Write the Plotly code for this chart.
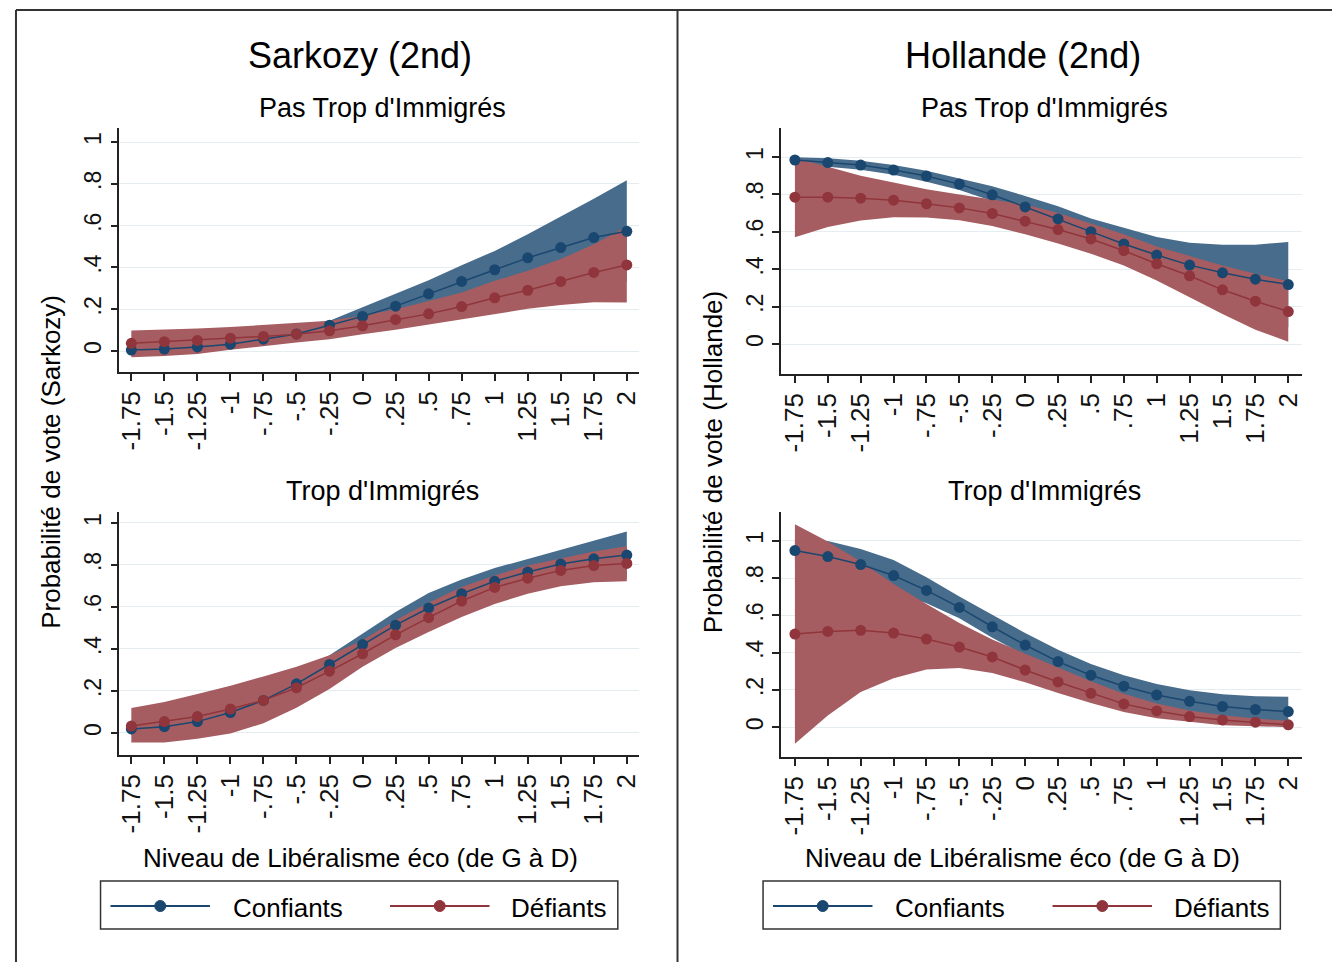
import plotly.graph_objects as go

# Niveau de libéralisme économique (axe x)
NIVEAU = [-1.75, -1.5, -1.25, -1, -0.75, -0.5, -0.25, 0, 0.25, 0.5, 0.75, 1, 1.25, 1.5, 1.75, 2]
NIVEAU_LABELS = ["-1.75", "-1.5", "-1.25", "-1", "-.75", "-.5", "-.25", "0",
                 ".25", ".5", ".75", "1", "1.25", "1.5", "1.75", "2"]
PROBA_TICKS = [0, 0.2, 0.4, 0.6, 0.8, 1]
PROBA_LABELS = ["0", ".2", ".4", ".6", ".8", "1"]

# Sarkozy (2nd) - Pas Trop d'Immigrés
sarko_pas_conf = [0.005, 0.01, 0.02, 0.033, 0.057, 0.082, 0.124, 0.166, 0.215, 0.274, 0.333, 0.389, 0.446, 0.495, 0.543, 0.573]
sarko_pas_conf_lo = [-0.012, -0.01, 0.0, 0.013, 0.034, 0.055, 0.09, 0.125, 0.16, 0.21, 0.255, 0.30, 0.335, 0.36, 0.37, 0.33]
sarko_pas_conf_hi = [0.022, 0.03, 0.042, 0.055, 0.08, 0.108, 0.145, 0.209, 0.275, 0.339, 0.411, 0.479, 0.559, 0.642, 0.729, 0.817]
sarko_pas_def = [0.037, 0.045, 0.051, 0.062, 0.07, 0.081, 0.097, 0.121, 0.151, 0.178, 0.213, 0.255, 0.291, 0.333, 0.376, 0.412]
sarko_pas_def_lo = [-0.029, -0.024, -0.014, 0.006, 0.025, 0.041, 0.057, 0.081, 0.102, 0.126, 0.153, 0.177, 0.202, 0.221, 0.234, 0.232]
sarko_pas_def_hi = [0.099, 0.102, 0.108, 0.115, 0.124, 0.134, 0.145, 0.169, 0.2, 0.24, 0.28, 0.336, 0.384, 0.44, 0.511, 0.596]

# Sarkozy (2nd) - Trop d'Immigrés
sarko_trop_conf = [0.019, 0.03, 0.054, 0.097, 0.155, 0.234, 0.326, 0.421, 0.513, 0.595, 0.663, 0.722, 0.766, 0.804, 0.829, 0.847]
sarko_trop_conf_lo = [-0.01, 0.0, 0.025, 0.06, 0.115, 0.19, 0.285, 0.37, 0.45, 0.525, 0.595, 0.66, 0.705, 0.735, 0.745, 0.735]
sarko_trop_conf_hi = [0.05, 0.065, 0.09, 0.135, 0.195, 0.28, 0.37, 0.473, 0.576, 0.666, 0.731, 0.785, 0.829, 0.873, 0.916, 0.959]
sarko_trop_def = [0.033, 0.054, 0.078, 0.114, 0.155, 0.215, 0.294, 0.377, 0.467, 0.549, 0.628, 0.693, 0.737, 0.774, 0.797, 0.807]
sarko_trop_def_lo = [-0.046, -0.046, -0.028, -0.003, 0.046, 0.12, 0.209, 0.315, 0.405, 0.481, 0.552, 0.614, 0.663, 0.698, 0.718, 0.722]
sarko_trop_def_hi = [0.119, 0.147, 0.185, 0.225, 0.269, 0.315, 0.37, 0.441, 0.536, 0.62, 0.695, 0.75, 0.797, 0.832, 0.864, 0.889]

# Hollande (2nd) - Pas Trop d'Immigrés
hol_pas_conf = [0.984, 0.97, 0.957, 0.93, 0.898, 0.855, 0.798, 0.733, 0.669, 0.601, 0.535, 0.476, 0.422, 0.381, 0.347, 0.318]
hol_pas_conf_lo = [0.97, 0.948, 0.932, 0.905, 0.868, 0.823, 0.765, 0.70, 0.62, 0.545, 0.46, 0.38, 0.30, 0.23, 0.16, 0.09]
hol_pas_conf_hi = [0.998, 0.993, 0.98, 0.957, 0.927, 0.886, 0.844, 0.792, 0.737, 0.671, 0.621, 0.572, 0.542, 0.531, 0.531, 0.546]
hol_pas_def = [0.785, 0.785, 0.78, 0.769, 0.75, 0.728, 0.698, 0.657, 0.612, 0.562, 0.499, 0.429, 0.365, 0.29, 0.229, 0.174]
hol_pas_def_lo = [0.571, 0.626, 0.66, 0.678, 0.676, 0.662, 0.631, 0.587, 0.537, 0.483, 0.42, 0.34, 0.25, 0.161, 0.077, 0.013]
hol_pas_def_hi = [0.996, 0.948, 0.9, 0.864, 0.828, 0.8, 0.773, 0.746, 0.701, 0.644, 0.587, 0.522, 0.47, 0.42, 0.376, 0.336]

# Hollande (2nd) - Trop d'Immigrés
hol_trop_conf = [0.948, 0.916, 0.873, 0.814, 0.734, 0.643, 0.539, 0.441, 0.352, 0.279, 0.22, 0.173, 0.139, 0.111, 0.095, 0.084]
hol_trop_conf_lo = [0.89, 0.85, 0.79, 0.73, 0.665, 0.585, 0.48, 0.385, 0.29, 0.22, 0.16, 0.115, 0.085, 0.06, 0.04, 0.03]
hol_trop_conf_hi = [1.0, 1.0, 0.957, 0.898, 0.805, 0.702, 0.604, 0.505, 0.416, 0.339, 0.279, 0.232, 0.198, 0.177, 0.166, 0.164]
hol_trop_def = [0.5, 0.514, 0.52, 0.505, 0.473, 0.43, 0.377, 0.307, 0.243, 0.182, 0.125, 0.0875, 0.057, 0.039, 0.027, 0.0125]
hol_trop_def_lo = [-0.089, 0.0625, 0.189, 0.2625, 0.309, 0.318, 0.291, 0.241, 0.184, 0.13, 0.082, 0.048, 0.029, 0.011, 0.005, 0.0]
hol_trop_def_hi = [1.089, 0.996, 0.889, 0.768, 0.661, 0.559, 0.47, 0.395, 0.318, 0.246, 0.179, 0.127, 0.089, 0.064, 0.046, 0.034]

NAVY = "#1a476f"
MAROON = "#90353b"
NAVY_FILL = "#486c8c"
MAROON_FILL = "#a65d62"
FONT = "Liberation Sans, Arial, sans-serif"
W, H = 1340, 962
OFF = 8  # marge du body de la page html


def px(x):
    return (x - OFF) / W


def py(y):
    return 1 - (y - OFF) / H


panels = [
    # (xaxis, yaxis, confiants, conf_lo, conf_hi, defiants, def_lo, def_hi)
    ("x", "y", sarko_pas_conf, sarko_pas_conf_lo, sarko_pas_conf_hi,
     sarko_pas_def, sarko_pas_def_lo, sarko_pas_def_hi),
    ("x2", "y2", sarko_trop_conf, sarko_trop_conf_lo, sarko_trop_conf_hi,
     sarko_trop_def, sarko_trop_def_lo, sarko_trop_def_hi),
    ("x3", "y3", hol_pas_conf, hol_pas_conf_lo, hol_pas_conf_hi,
     hol_pas_def, hol_pas_def_lo, hol_pas_def_hi),
    ("x4", "y4", hol_trop_conf, hol_trop_conf_lo, hol_trop_conf_hi,
     hol_trop_def, hol_trop_def_lo, hol_trop_def_hi),
]

fig = go.Figure()

for xa, ya, conf, conf_lo, conf_hi, dfi, dfi_lo, dfi_hi in panels:
    band_x = NIVEAU + NIVEAU[::-1]
    fig.add_trace(go.Scatter(
        x=band_x, y=conf_hi + conf_lo[::-1], xaxis=xa, yaxis=ya,
        fill="toself", fillcolor=NAVY_FILL, line=dict(width=0),
        mode="lines", showlegend=False, hoverinfo="skip"
    ))
    fig.add_trace(go.Scatter(
        x=band_x, y=dfi_hi + dfi_lo[::-1], xaxis=xa, yaxis=ya,
        fill="toself", fillcolor=MAROON_FILL, line=dict(width=0),
        mode="lines", showlegend=False, hoverinfo="skip"
    ))
    fig.add_trace(go.Scatter(
        x=NIVEAU, y=conf, xaxis=xa, yaxis=ya, mode="lines+markers",
        line=dict(color=NAVY, width=1.5), marker=dict(color=NAVY, size=11),
        name="Confiants", showlegend=False
    ))
    fig.add_trace(go.Scatter(
        x=NIVEAU, y=dfi, xaxis=xa, yaxis=ya, mode="lines+markers",
        line=dict(color=MAROON, width=1.5), marker=dict(color=MAROON, size=11),
        name="Défiants", showlegend=False
    ))

common_x = dict(
    tickvals=NIVEAU, ticktext=NIVEAU_LABELS, tickangle=-90,
    showline=True, linecolor="#222222", linewidth=1.5,
    ticks="outside", ticklen=7, tickwidth=1.5, tickcolor="#222222",
    showgrid=False, zeroline=False,
    tickfont=dict(family=FONT, size=26, color="#111111"),
)
common_y = dict(
    tickvals=PROBA_TICKS, ticktext=PROBA_LABELS, tickangle=-90,
    showline=True, linecolor="#222222", linewidth=1.5,
    ticks="outside", ticklen=7, tickwidth=1.5, tickcolor="#222222",
    showgrid=True, gridcolor="#e4edf0", gridwidth=1, zeroline=False,
    tickfont=dict(family=FONT, size=23, color="#111111"),
)

left_dom = [px(116), px(638)]
right_dom = [px(781), px(1305)]

fig.update_layout(
    xaxis=dict(common_x, domain=left_dom, range=[-1.84, 2.09], anchor="y"),
    yaxis=dict(common_y, domain=[py(372), py(128)], range=[-0.1, 1.067], anchor="x"),
    xaxis2=dict(common_x, domain=left_dom, range=[-1.84, 2.09], anchor="y2"),
    yaxis2=dict(common_y, domain=[py(755), py(512)], range=[-0.105, 1.052], anchor="x2"),
    xaxis3=dict(common_x, domain=right_dom, range=[-1.856, 2.106], anchor="y3"),
    yaxis3=dict(common_y, domain=[py(374), py(128)], range=[-0.16, 1.155], anchor="x3"),
    xaxis4=dict(common_x, domain=right_dom, range=[-1.856, 2.106], anchor="y4"),
    yaxis4=dict(common_y, domain=[py(757), py(512)], range=[-0.16, 1.155], anchor="x4"),
)

annotations = []


def add_text(text, x, y, size, angle=0, xanchor="center"):
    annotations.append(dict(
        text=text, x=px(x), y=py(y), xref="paper", yref="paper",
        xanchor=xanchor, yanchor="middle", showarrow=False, textangle=angle,
        font=dict(family=FONT, size=size, color="#000000")
    ))


for off, cand in [(0, "Sarkozy"), (666, "Hollande")]:
    add_text(cand + " (2nd)", 358 + off, 55, 36)
    add_text("Pas Trop d'Immigrés", 380 + off, 108, 27)
    add_text("Trop d'Immigrés", 380 + off, 491, 27)
    add_text("Niveau de Libéralisme éco (de G à D)", 358 + off, 858, 26)
    add_text("Probabilité de vote (" + cand + ")", 47 + off, 462, 26, angle=-90)
    add_text("Confiants", 228 + off, 908, 26, xanchor="left")
    add_text("Défiants", 508 + off, 908, 26, xanchor="left")

shapes = []
frame = dict(color="#333333", width=2)
shapes.append(dict(type="line", xref="paper", yref="paper",
                   x0=px(12), x1=1.0, y0=py(10), y1=py(10), line=frame))
shapes.append(dict(type="line", xref="paper", yref="paper",
                   x0=px(12), x1=px(12), y0=py(10), y1=0, line=frame))
shapes.append(dict(type="line", xref="paper", yref="paper",
                   x0=px(677), x1=px(677), y0=py(10), y1=0, line=frame))

for off in [0, 666]:
    shapes.append(dict(type="rect", xref="paper", yref="paper",
                       x0=px(97 + off), x1=px(617 + off), y0=py(929), y1=py(881),
                       line=dict(color="#333333", width=1.5), fillcolor="white"))
    for x0, color in [(107, NAVY), (388, MAROON)]:
        shapes.append(dict(type="line", xref="paper", yref="paper",
                           x0=px(x0 + off), x1=px(x0 + 100 + off), y0=py(906), y1=py(906),
                           line=dict(color=color, width=2)))
        cx = x0 + 50 + off
        shapes.append(dict(type="circle", xref="paper", yref="paper",
                           x0=px(cx - 5.5), x1=px(cx + 5.5), y0=py(911.5), y1=py(900.5),
                           line=dict(color=color, width=1), fillcolor=color))

fig.update_layout(
    width=W, height=H,
    margin=dict(l=0, r=0, t=0, b=0),
    paper_bgcolor="white",
    plot_bgcolor="white",
    showlegend=False,
    annotations=annotations,
    shapes=shapes,
    font=dict(family=FONT, color="#000000"),
)

fig.write_html("out.html")
